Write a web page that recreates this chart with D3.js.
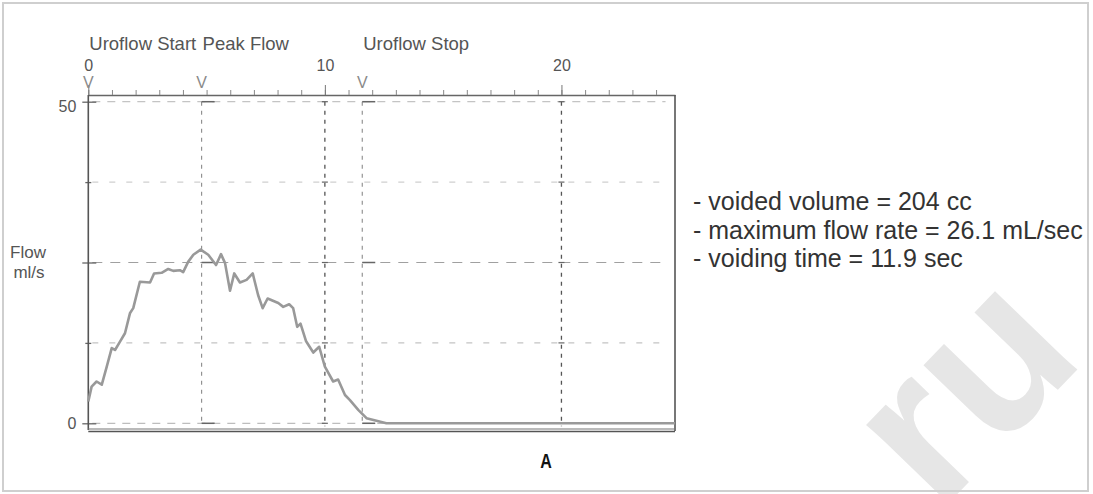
<!DOCTYPE html>
<html lang="en">
<head>
    <meta charset="UTF-8">
    <title>Uroflow</title>
    <style>
        body { margin: 0; background: #fff; }
        text { font-family: "Liberation Sans", Arial, Helvetica, sans-serif; }
    </style>
</head>
<script src="https://d3js.org/d3.v7.min.js"></script>
<body>
<script>
    // flow curve (seconds, ml/s)
    var flowTime = [0, 0.14, 0.35, 0.57, 0.78, 0.99, 1.13, 1.34, 1.55, 1.76, 1.9, 2.18, 2.61, 2.78,
        3.1, 3.38, 3.59, 3.87, 4.01, 4.22, 4.44, 4.75, 5.07, 5.4, 5.61, 5.78, 5.99, 6.17, 6.41,
        6.69, 6.95, 7.18, 7.37, 7.58, 8.03, 8.24, 8.49, 8.66, 8.83, 8.97, 9.2, 9.51, 9.76, 10.0,
        10.35, 10.56, 10.85, 11.06, 11.41, 11.76, 12.18, 12.6, 24.8];
    var flowRate = [3.4, 5.7, 6.5, 6.0, 8.8, 11.7, 11.4, 12.7, 14.0, 17.1, 17.9, 22.0, 21.9, 23.3,
        23.4, 24.0, 23.7, 23.8, 23.5, 25.1, 26.2, 27.0, 26.2, 24.6, 26.3, 24.9, 20.6, 23.3, 21.9,
        22.3, 23.3, 19.9, 17.9, 19.4, 18.7, 18.1, 18.5, 17.9, 15.0, 15.5, 12.8, 11.0, 11.9, 8.8,
        6.5, 6.8, 4.4, 3.6, 2.1, 0.8, 0.4, 0.0, 0.0];

    var markerNames = ["Uroflow Start", "Peak Flow", "Uroflow Stop"];
    var markerTimes = [0, 4.79, 11.58];
    var xLabels = [0, 10, 20];
    var yLabels = [0, 50];
    var yGrid = [0, 12.5, 25, 37.5, 50];
    var summary = ["- voided volume = 204 cc", "- maximum flow rate = 26.1 mL/sec", "- voiding time = 11.9 sec"];

    var W = 1093, H = 494;
    var svg = d3.select("body").append("svg")
        .attr("width", W)
        .attr("height", H);

    svg.append("rect")
        .attr("x", 0).attr("y", 0).attr("width", W).attr("height", H)
        .attr("fill", "#fff");

    // watermark
    svg.append("text")
        .attr("transform", "translate(938,514) rotate(-46)")
        .attr("font-size", "215px")
        .attr("font-weight", "bold")
        .attr("fill", "#e6e6e6")
        .text("ru");

    // outer frame
    svg.append("rect")
        .attr("x", 3).attr("y", 3).attr("width", 1085).attr("height", 488)
        .attr("fill", "none")
        .attr("stroke", "#cfcfcf")
        .attr("stroke-width", 2);

    var x = d3.scaleLinear().domain([0, 24.8]).range([88.3, 675]);
    var y = d3.scaleLinear().domain([0, 50]).range([423.3, 101.7]);
    var plotTop = 95, plotBottom = 430;

    // horizontal grid
    var gridStyle = {0: ["#bdbdbd", "8,7"], 12.5: ["#c4c4c4", "6,11"], 25: ["#a0a0a0", "10,8"],
        37.5: ["#cfcfcf", "6,11"], 50: ["#c4c4c4", "8,7"]};
    svg.selectAll(".hgrid")
        .data(yGrid)
        .enter().append("line")
        .attr("class", "hgrid")
        .attr("x1", x(0) + 4).attr("x2", x(24.4))
        .attr("y1", function (d) { return y(d); })
        .attr("y2", function (d) { return y(d); })
        .attr("stroke", function (d) { return gridStyle[d][0]; })
        .attr("stroke-dasharray", function (d) { return gridStyle[d][1]; })
        .attr("stroke-width", 1.2);

    // vertical grid at 10 / 20
    svg.selectAll(".vgrid")
        .data([10, 20])
        .enter().append("line")
        .attr("x1", function (d) { return x(d); })
        .attr("x2", function (d) { return x(d); })
        .attr("y1", y(50)).attr("y2", y(0) + 3)
        .attr("stroke", "#555")
        .attr("stroke-width", 1.3)
        .attr("stroke-dasharray", "4,5");

    // small crosses on grid intersections
    [10, 20].forEach(function (t) {
        yGrid.forEach(function (v) {
            svg.append("line")
                .attr("x1", x(t) - 3).attr("x2", x(t) + 3)
                .attr("y1", y(v)).attr("y2", y(v))
                .attr("stroke", "#666").attr("stroke-width", 1.2);
        });
    });

    // marker lines (peak, stop)
    markerTimes.slice(1).forEach(function (t) {
        svg.append("line")
            .attr("x1", x(t)).attr("x2", x(t))
            .attr("y1", y(50)).attr("y2", y(0))
            .attr("stroke", "#8a8a8a")
            .attr("stroke-width", 1.1)
            .attr("stroke-dasharray", "4,5");
        [50, 25, 0].forEach(function (v) {
            svg.append("line")
                .attr("x1", x(t)).attr("x2", x(t) + 13)
                .attr("y1", y(v)).attr("y2", y(v))
                .attr("stroke", "#666").attr("stroke-width", 1.5);
        });
    });

    // top axis
    var topAxis = svg.append("g")
        .attr("transform", "translate(0," + plotTop + ")")
        .call(d3.axisTop(x).tickValues(d3.range(0, 25, 1)).tickSizeInner(5).tickSizeOuter(0).tickFormat(""));
    topAxis.select(".domain").attr("stroke", "#666").attr("stroke-width", 1.6);
    topAxis.selectAll(".tick line").attr("stroke", "#888");

    var topMajor = svg.append("g")
        .attr("transform", "translate(0," + plotTop + ")")
        .call(d3.axisTop(x).tickValues(xLabels).tickSizeInner(10).tickPadding(14).tickFormat(d3.format("d")));
    topMajor.select(".domain").remove();
    topMajor.selectAll(".tick line").attr("stroke", "#777");
    topMajor.selectAll(".tick text")
        .attr("font-size", "16px")
        .attr("font-family", "Liberation Sans, Arial, sans-serif")
        .attr("fill", "#555");

    // V marks
    svg.selectAll(".vmark")
        .data(markerTimes)
        .enter().append("text")
        .attr("x", function (d) { return x(d); })
        .attr("y", 88)
        .attr("text-anchor", "middle")
        .attr("font-size", "16px")
        .attr("fill", "#8a8a8a")
        .text("V");

    // marker names
    svg.selectAll(".mname")
        .data(markerNames)
        .enter().append("text")
        .attr("x", function (d, i) { return x(markerTimes[i]) + 1; })
        .attr("y", 50)
        .attr("font-size", "18.5px")
        .attr("fill", "#555")
        .text(function (d) { return d; });

    // left axis
    var leftAxis = svg.append("g")
        .attr("transform", "translate(" + x(0) + ",0)")
        .call(d3.axisLeft(y).tickValues(yGrid).tickSizeInner(6).tickSizeOuter(0)
            .tickPadding(6)
            .tickFormat(function (d) { return yLabels.indexOf(d) >= 0 ? d : ""; }));
    leftAxis.select(".domain").remove();
    leftAxis.selectAll(".tick line")
        .attr("x2", function (d) { return (d % 25 === 0) ? -6 : -3; })
        .attr("x1", function (d) { return (d % 25 === 0) ? 8 : 3; })
        .attr("stroke", "#666")
        .attr("stroke-width", 1.3);
    leftAxis.selectAll(".tick text")
        .attr("font-size", "16px")
        .attr("font-family", "Liberation Sans, Arial, sans-serif")
        .attr("fill", "#555")
        .attr("dy", function (d) { return d === 0 ? "0.3em" : "0.6em"; });

    // frame lines
    svg.append("line")
        .attr("x1", x(0)).attr("x2", x(0)).attr("y1", plotTop).attr("y2", plotBottom)
        .attr("stroke", "#555").attr("stroke-width", 1.6);
    svg.append("line")
        .attr("x1", x(24.8)).attr("x2", x(24.8)).attr("y1", plotTop).attr("y2", plotBottom + 1)
        .attr("stroke", "#555").attr("stroke-width", 1.6);
    svg.append("line")
        .attr("x1", x(0)).attr("x2", x(24.8)).attr("y1", plotBottom - 1).attr("y2", plotBottom - 1)
        .attr("stroke", "#777").attr("stroke-width", 1.2);
    svg.append("line")
        .attr("x1", x(0)).attr("x2", x(24.8)).attr("y1", plotBottom + 1.5).attr("y2", plotBottom + 1.5)
        .attr("stroke", "#555").attr("stroke-width", 1.6);

    // flow trace
    var line = d3.line()
        .x(function (d, i) { return x(flowTime[i]); })
        .y(function (d) { return y(d); });
    svg.append("path")
        .datum(flowRate)
        .attr("d", line)
        .attr("fill", "none")
        .attr("stroke", "#999")
        .attr("stroke-width", 2.6)
        .attr("stroke-linejoin", "round");

    // y label
    svg.append("text")
        .attr("x", 28).attr("y", 258)
        .attr("text-anchor", "middle")
        .attr("font-size", "17px")
        .attr("fill", "#555")
        .text("Flow");
    svg.append("text")
        .attr("x", 29).attr("y", 278)
        .attr("text-anchor", "middle")
        .attr("font-size", "17px")
        .attr("fill", "#555")
        .text("ml/s");

    // summary text
    svg.selectAll(".summary")
        .data(summary)
        .enter().append("text")
        .attr("x", 693)
        .attr("y", function (d, i) { return 210 + i * 28.5; })
        .attr("font-size", "25px")
        .attr("fill", "#333")
        .text(function (d) { return d; });

    // panel letter
    svg.append("text")
        .attr("x", 546).attr("y", 468)
        .attr("text-anchor", "middle")
        .attr("font-size", "20px")
        .attr("font-weight", "bold")
        .attr("font-family", "'Liberation Sans Narrow', 'DejaVu Sans Condensed', sans-serif")
        .attr("transform", "translate(546,0) scale(0.8,1) translate(-546,0)")
        .attr("fill", "#111")
        .text("A");
</script>
</body>
</html>
